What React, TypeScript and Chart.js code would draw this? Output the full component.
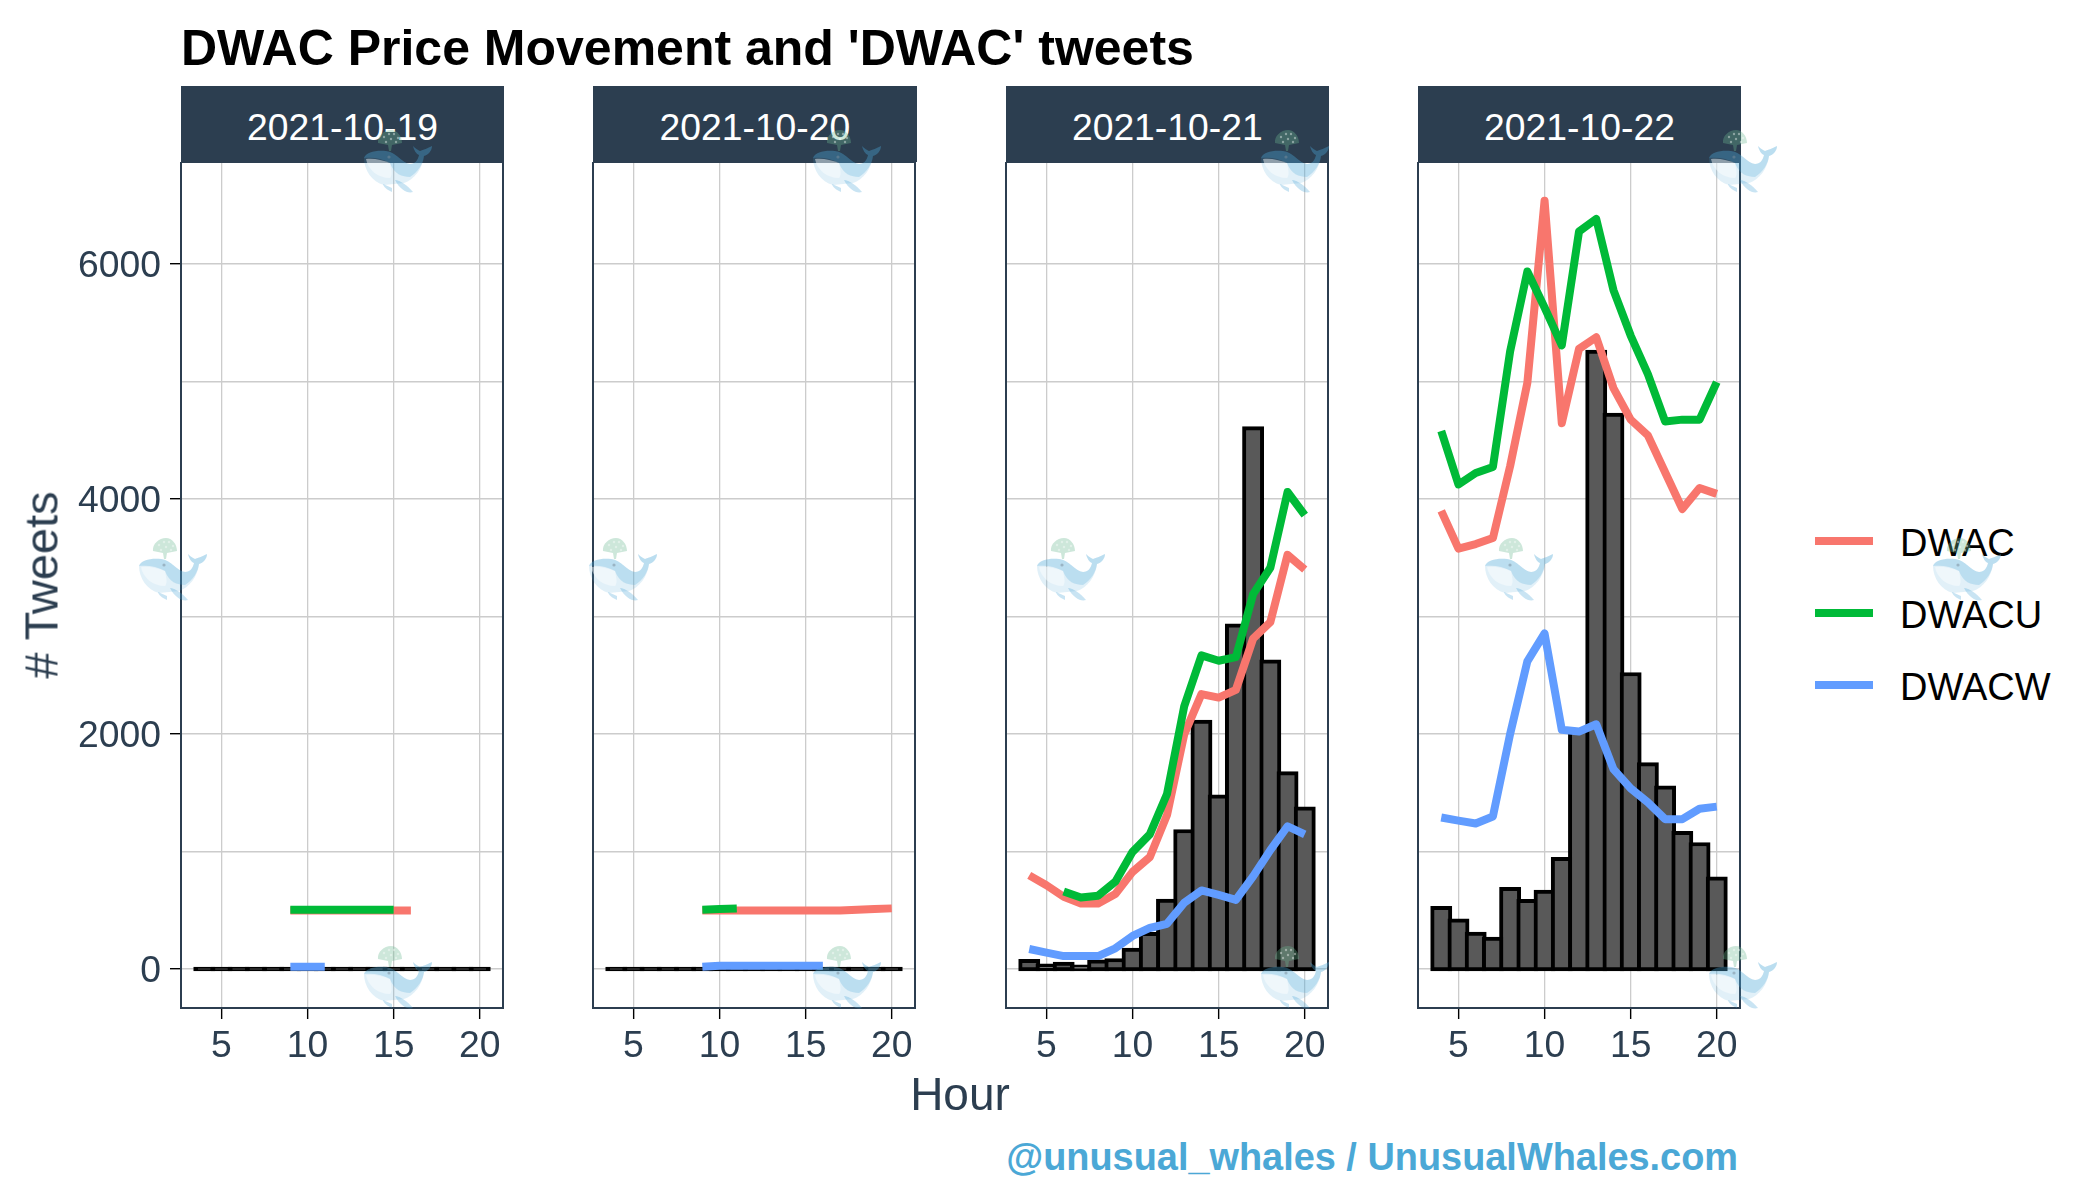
import React, { useEffect, useRef } from "react";
import { Chart, registerables } from "chart.js";

Chart.register(...registerables);

const dates = ["2021-10-19", "2021-10-20", "2021-10-21", "2021-10-22"];
const hours = [4, 5, 6, 7, 8, 9, 10, 11, 12, 13, 14, 15, 16, 17, 18, 19, 20];
const xTicks = [5, 10, 15, 20];
const yTicks = [0, 1000, 2000, 3000, 4000, 5000, 6000];

// tweets per hour, one list per day
const tweets19 = [0, 0, 0, 0, 0, 0, 0, 0, 0, 0, 0, 0, 0, 0, 0, 0, 0];
const tweets20 = [0, 0, 0, 0, 0, 0, 0, 0, 0, 0, 0, 0, 0, 0, 0, 0, 0];
const tweets21 = [66, 27, 42, 18, 60, 72, 161, 295, 579, 1170, 2101, 1466, 2922, 4600, 2615, 1663, 1364];
const tweets22 = [516, 409, 298, 254, 678, 576, 654, 934, 2030, 5251, 4715, 2507, 1740, 1543, 1155, 1060, 767];

// scaled price lines, null where the ticker did not trade
const dwac19 = [null, null, null, null, null, 497, 497, 497, 497, 497, 497, 497, 497, null, null, null, null];
const dwacu19 = [null, null, null, null, null, 505, 505, 505, 505, 505, 505, 505, null, null, null, null, null];
const dwacw19 = [null, null, null, null, null, 20, 20, 20, null, null, null, null, null, null, null, null, null];

const dwac20 = [null, null, null, null, null, 497, 497, 497, 497, 497, 497, 497, 497, 497, 505, 510, 516];
const dwacu20 = [null, null, null, null, null, 505, 510, 514, null, null, null, null, null, null, null, null, null];
const dwacw20 = [null, null, null, null, null, 20, 28, 28, 28, 28, 28, 28, 28, null, null, null, null];

const dwac21 = [797, 713, 615, 558, 558, 639, 827, 952, 1310, 1997, 2340, 2310, 2376, 2812, 2952, 3525, 3400];
const dwacu21 = [null, null, 660, 609, 624, 743, 997, 1146, 1490, 2236, 2669, 2624, 2654, 3191, 3415, 4060, 3863];
const dwacw21 = [170, 140, 110, 110, 110, 176, 281, 349, 385, 564, 669, 630, 588, 788, 1012, 1215, 1146];

const dwac22 = [3900, 3578, 3617, 3668, 4280, 4989, 6540, 4646, 5278, 5377, 4944, 4676, 4542, 4228, 3915, 4094, 4044];
const dwacu22 = [4580, 4124, 4222, 4273, 5257, 5937, 5630, 5308, 6277, 6385, 5779, 5392, 5064, 4661, 4676, 4676, 4995];
const dwacw22 = [1290, 1263, 1239, 1298, 2000, 2618, 2857, 2036, 2021, 2083, 1701, 1537, 1418, 1275, 1275, 1364, 1382];

const tweetSeries = [tweets19, tweets20, tweets21, tweets22];
const dwacSeries = [dwac19, dwac20, dwac21, dwac22];
const dwacuSeries = [dwacu19, dwacu20, dwacu21, dwacu22];
const dwacwSeries = [dwacw19, dwacw20, dwacw21, dwacw22];

const legendNames = ["DWAC", "DWACU", "DWACW"];
const lineColors = ["#F8766D", "#00BA38", "#619CFF"];

const panelLefts = [180.8, 593.2, 1005.6, 1417.8];
const panelWidth = 322.4;
const panelTop = 162;
const panelBottom = 1008;
const canvasPadLeft = 140;
const canvasPadRight = 20;
const canvasBelow = 90;

const whaleTopRow = [364, 813, 1261, 1709];
const whaleMidRow = [139, 589, 1037, 1485, 1933];
const spoutDots = [[20, 7], [25, 4], [30, 4], [34, 8], [22, 12], [27, 9], [32, 12]];

const inkBlue = "#2C3E50";
const barStroke = 4; // px, ggplot centres it on the bar edge
const strokeInUnits = (barStroke / 2) / 0.11748;

const panelBorder = {
  id: "panelBorder",
  afterDatasetsDraw(chart: Chart) {
    const { ctx, chartArea } = chart;
    ctx.save();
    ctx.strokeStyle = inkBlue;
    ctx.lineWidth = 2;
    ctx.strokeRect(chartArea.left, chartArea.top, chartArea.width, chartArea.height);
    ctx.restore();
  },
};

const toPoints = (values: (number | null)[]) =>
  values.map((v, i) => ({ x: hours[i], y: v }));

const Panel: React.FC<{ index: number }> = ({ index }) => {
  const canvasRef = useRef<HTMLCanvasElement>(null);

  useEffect(() => {
    if (!canvasRef.current) return;
    const showY = index === 0;
    const lineData = [dwacSeries[index], dwacuSeries[index], dwacwSeries[index]];

    const chart = new Chart(canvasRef.current, {
      type: "bar",
      data: {
        datasets: [
          ...lineData.map((values, i) => ({
            type: "line" as const,
            label: legendNames[i],
            data: toPoints(values),
            borderColor: lineColors[i],
            borderWidth: 8,
            borderCapStyle: "butt" as const,
            borderJoinStyle: "round" as const,
            pointRadius: 0,
            tension: 0,
            order: 3 - i,
          })),
          {
            type: "bar" as const,
            label: "Tweets",
            // stroke sits half outside the bar, so pad the ends by half of it
            data: tweetSeries[index].map((v, i) => ({
              x: hours[i],
              y: [-strokeInUnits, v + strokeInUnits],
            })),
            // empty hours are all stroke, no grey specks in the baseline
            backgroundColor: tweetSeries[index].map((v) => (v === 0 ? "#000000" : "#595959")),
            borderColor: "#000000",
            borderWidth: barStroke,
            borderSkipped: false,
            barThickness: 17.24 + barStroke,
            order: 4,
          },
        ],
      } as any,
      options: {
        responsive: false,
        animation: false,
        devicePixelRatio: 1,
        layout: { padding: { top: 0, left: 0, right: canvasPadRight, bottom: 0 } },
        plugins: { legend: { display: false }, tooltip: { enabled: false } },
        scales: {
          x: {
            type: "linear",
            min: 2.65,
            max: 21.35,
            offset: false,
            afterBuildTicks: (scale: any) => {
              scale.ticks = xTicks.map((value) => ({ value }));
            },
            afterFit: (scale: any) => {
              scale.height = canvasBelow;
              scale.paddingLeft = 0;
              scale.paddingRight = 0;
            },
            grid: { offset: false, color: "#CCCCCC", lineWidth: 1.3, tickColor: "#000000", tickWidth: 1.4, tickLength: 11 },
            border: { display: false },
            ticks: {
              color: inkBlue,
              font: { family: "'Liberation Sans', Arial, sans-serif", size: 37.3 },
              padding: 5,
              maxRotation: 0,
              autoSkip: false,
              callback: (v: any) => String(v),
            },
          },
          y: {
            type: "linear",
            min: -332,
            max: 6869,
            afterBuildTicks: (scale: any) => {
              scale.ticks = yTicks.map((value) => ({ value }));
            },
            afterFit: (scale: any) => {
              scale.width = canvasPadLeft;
              scale.paddingTop = 0;
              scale.paddingBottom = 0;
            },
            grid: {
              color: "#CCCCCC",
              lineWidth: 1.4,
              drawTicks: showY,
              tickLength: 11,
              tickWidth: 1.4,
              tickColor: (ctx: any) => (ctx.tick && ctx.tick.value % 2000 === 0 ? "#000000" : "rgba(0,0,0,0)"),
            },
            border: { display: false },
            ticks: {
              display: showY,
              color: inkBlue,
              font: { family: "'Liberation Sans', Arial, sans-serif", size: 37.3 },
              padding: 9,
              labelOffset: 3,
              autoSkip: false,
              callback: (v: any) => (v % 2000 === 0 ? String(v) : ""),
            },
          },
        },
      },
      plugins: [panelBorder],
    });

    return () => {
      chart.destroy();
    };
  }, [index]);

  const left = panelLefts[index];
  const stripStyle: React.CSSProperties = {
    position: "absolute",
    left,
    top: 86,
    width: panelWidth + 1,
    height: panelTop - 86,
    background: inkBlue,
    color: "#FFFFFF",
    fontSize: 37.3,
    lineHeight: `${panelTop - 86 + 6}px`,
    textAlign: "center",
  };

  return (
    <>
      <canvas
        ref={canvasRef}
        width={canvasPadLeft + panelWidth + canvasPadRight}
        height={panelBottom - panelTop + canvasBelow}
        style={{ position: "absolute", left: left - canvasPadLeft, top: panelTop }}
      />
      <div style={stripStyle}>{dates[index]}</div>
    </>
  );
};

// watermark, repeated across the page in the source image
const Whale: React.FC<{ x: number; y: number }> = ({ x, y }) => (
  <svg
    width={69}
    height={64}
    viewBox="0 0 69 64"
    style={{ position: "absolute", left: x, top: y, pointerEvents: "none", filter: "blur(0.4px)" }}
  >
    <path
      d="M14 13 C13 6,20 0,27 0 C33 0,38 6,38 13 L28 15 L27 21 L25 21 L24 15 Z"
      fill="#6DB892"
      fillOpacity={0.34}
    />
    {spoutDots.map(([cx, cy]) => (
      <circle key={`${cx}-${cy}`} cx={cx} cy={cy} r={1.2} fill="#FFFFFF" fillOpacity={0.4} />
    ))}
    <path
      d="M0 28 C2 22,12 20,22 21 C32 22,38 33,46 34 C51 34,54 30,55 25 C52 24,50 20,49 16 C52 19,54 20,56 21 C59 20,64 18,68 16 C68 21,64 25,60 26 C59 38,50 50,40 53 L20 55 C8 52,0 40,0 28 Z"
      fill="#4BA6D6"
      fillOpacity={0.17}
    />
    <path
      d="M0 28 C2 22,12 20,22 21 C32 22,38 33,46 34 C51 34,54 30,55 25 C52 24,50 20,49 16 C52 19,54 20,56 21 C59 20,64 18,68 16 C68 21,64 25,60 26 C59 34,54 42,46 47 C38 47,30 44,26 33 C18 28,8 27,0 28 Z"
      fill="#4BA6D6"
      fillOpacity={0.25}
    />
    <path d="M2 29 C10 28,18 30,26 33 C28 42,28 46,26 48 C14 48,4 40,2 29 Z" fill="#FFFFFF" fillOpacity={0.45} />
    <path d="M31 50 C36 50,44 56,49 62 C44 64,36 60,31 50 Z" fill="#4BA6D6" fillOpacity={0.3} />
    <path d="M19 54 L28 58 L28 62 C24 60,20 58,19 54 Z" fill="#4BA6D6" fillOpacity={0.3} />
    <circle cx={25} cy={27} r={1.6} fill="#7A8C99" fillOpacity={0.5} />
  </svg>
);

const App: React.FC = () => {
  useEffect(() => {
    document.body.style.margin = "0";
  }, []);

  const font = "'Liberation Sans', Arial, sans-serif";
  const text = (style: React.CSSProperties): React.CSSProperties => ({
    position: "absolute",
    whiteSpace: "nowrap",
    lineHeight: 1,
    ...style,
  });

  return (
    <div style={{ position: "absolute", left: 0, top: 0, width: 2100, height: 1200, background: "#FFFFFF", fontFamily: font, overflow: "hidden" }}>
      <div style={text({ left: 181, top: 23, fontSize: 50, fontWeight: 700, color: "#000000" })}>
        DWAC Price Movement and 'DWAC' tweets
      </div>

      {dates.map((_, i) => (
        <Panel key={i} index={i} />
      ))}

      <div style={text({ left: 41, top: 585, fontSize: 47, color: inkBlue, transform: "translate(-50%, -50%) rotate(-90deg)" })}>
        # Tweets
      </div>
      <div style={text({ left: 960, top: 1094, fontSize: 46, color: inkBlue, transform: "translate(-50%, -50%)" })}>Hour</div>
      <div style={text({ right: 362, top: 1139, fontSize: 37.9, fontWeight: 700, color: "#4BA8D6" })}>
        @unusual_whales / UnusualWhales.com
      </div>

      {legendNames.map((name, i) => (
        <React.Fragment key={name}>
          <div style={{ position: "absolute", left: 1815, top: 537 + i * 72, width: 58, height: 8, background: lineColors[i] }} />
          <div style={text({ left: 1900, top: 543 + i * 72 - 19, fontSize: 38, color: "#000000" })}>{name}</div>
        </React.Fragment>
      ))}

      {whaleTopRow.map((x) => (
        <Whale key={`t${x}`} x={x} y={130} />
      ))}
      {whaleMidRow.map((x) => (
        <Whale key={`m${x}`} x={x} y={538} />
      ))}
      {whaleTopRow.map((x) => (
        <Whale key={`b${x}`} x={x} y={946} />
      ))}
    </div>
  );
};

export default App;
